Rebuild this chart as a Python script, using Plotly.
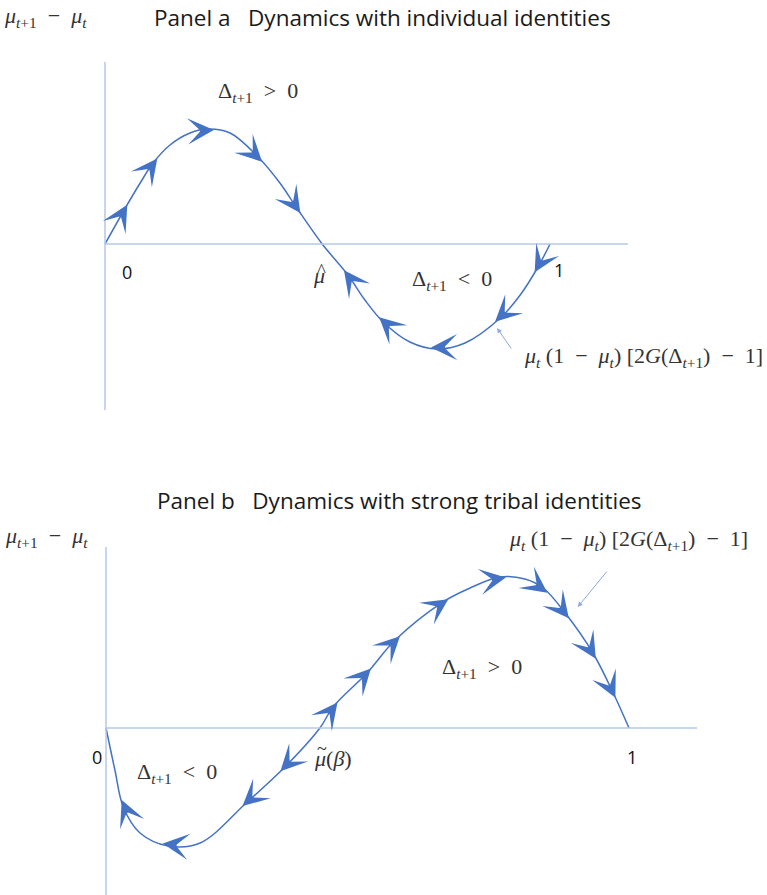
import numpy as np
import plotly.graph_objects as go
from plotly.subplots import make_subplots

# ---- panel a: individual identities ----
mu_a = [0.0, 0.043, 0.079, 0.108, 0.146, 0.191, 0.231, 0.281, 0.344, 0.393, 0.431,
        0.488, 0.546, 0.584, 0.625, 0.685, 0.746, 0.809, 0.888, 0.933, 0.973, 1.0]
dmu_a = [0.0, 0.34, 0.61, 0.81, 0.99, 1.11, 1.15, 1.11, 0.87, 0.61, 0.36,
         0.0, -0.31, -0.56, -0.78, -0.98, -1.05, -0.99, -0.74, -0.51, -0.23, 0.0]
arrows_a = [0.043, 0.108, 0.231, 0.344, 0.431, 0.546, 0.625, 0.746, 0.888, 0.973]
dir_a = [1, 1, 1, 1, 1, -1, -1, -1, -1, -1]

# ---- panel b: strong tribal identities ----
mu_b = [0.0, 0.017, 0.033, 0.065, 0.119, 0.180, 0.270, 0.342, 0.409, 0.434, 0.499,
        0.553, 0.644, 0.696, 0.753, 0.801, 0.836, 0.878, 0.931, 0.969, 1.0]
dmu_b = [0.0, -0.42, -0.79, -1.05, -1.18, -1.15, -0.74, -0.39, 0.0, 0.21, 0.55,
         0.88, 1.26, 1.40, 1.51, 1.49, 1.40, 1.15, 0.75, 0.36, 0.0]
arrows_b = [0.033, 0.119, 0.270, 0.342, 0.434, 0.499, 0.553, 0.644, 0.753, 0.836, 0.878, 0.931, 0.969]
dir_b = [-1, -1, -1, -1, 1, 1, 1, 1, 1, 1, 1, 1, 1]

CURVE = "#4472C4"
AXIS = "#B4C7E7"
POINTER = "#8FAADC"
MATH = "Liberation Serif"
SANS = "Open Sans"
SP = "\u2002"

# axis ranges (also used to size the arrow shafts in pixels)
XR_A, YR_A = [-0.236, 1.4876], [-2.06, 2.44]
XR_B, YR_B = [-0.2027, 1.2639], [-1.67, 2.78]
W, H = 767, 895

fig = make_subplots(rows=2, cols=1)

fig.add_trace(
    go.Scatter(x=mu_a, y=dmu_a, mode="lines", line=dict(shape="spline", color=CURVE, width=1.5),
               hoverinfo="skip", showlegend=False),
    row=1, col=1
)
fig.add_trace(
    go.Scatter(x=mu_b, y=dmu_b, mode="lines", line=dict(shape="spline", color=CURVE, width=1.5),
               hoverinfo="skip", showlegend=False),
    row=2, col=1
)

fig.update_layout(
    width=W, height=H,
    margin=dict(l=0, r=0, t=0, b=0),
    paper_bgcolor="white", plot_bgcolor="white",
    xaxis=dict(domain=[0, 1], range=XR_A, visible=False),
    yaxis=dict(domain=[0.4972, 1], range=YR_A, visible=False),
    xaxis2=dict(domain=[0, 1], range=XR_B, visible=False),
    yaxis2=dict(domain=[0, 0.4972], range=YR_B, visible=False),
)

# axes of the phase diagrams
shapes = []
for xr, yr, top, bottom, right in [("x", "y", 1.82, -1.66, 1.175), ("x2", "y2", 1.81, -1.67, 1.13)]:
    shapes.append(dict(type="line", xref=xr, yref=yr, x0=0, x1=0, y0=bottom, y1=top,
                       line=dict(color=AXIS, width=1.5)))
    shapes.append(dict(type="line", xref=xr, yref=yr, x0=0, x1=right, y0=0, y1=0,
                       line=dict(color=AXIS, width=1.5)))
fig.update_layout(shapes=shapes)


def along(mus, dmus, m, d, px, sx, sy):
    # walk along the drawn curve from m in direction d until px pixels away
    y0 = np.interp(m, mus, dmus)
    t = m
    for _ in range(400):
        t += d * 0.0005
        yt = np.interp(t, mus, dmus)
        if np.hypot((t - m) * sx, (yt - y0) * sy) >= px:
            break
    return t, float(yt)


# direction arrows along the curves
ann = []
for mus, dmus, pts, dirs, xr, yr, xrng, yrng in [
        (mu_a, dmu_a, arrows_a, dir_a, "x", "y", XR_A, YR_A),
        (mu_b, dmu_b, arrows_b, dir_b, "x2", "y2", XR_B, YR_B)]:
    sx = W / (xrng[1] - xrng[0])
    sy = H * 0.4972 / (yrng[1] - yrng[0])
    for m, d in zip(pts, dirs):
        tx, ty = along(mus, dmus, m, d, 6, sx, sy)
        bx, by = along(mus, dmus, m, -d, 8, sx, sy)
        ann.append(dict(x=tx, y=ty, ax=bx, ay=by,
                        xref=xr, yref=yr, axref=xr, ayref=yr, text="",
                        showarrow=True, arrowhead=3, arrowsize=1.9, arrowwidth=2.3,
                        arrowcolor=CURVE))

def label(txt, x, y, xr, yr, font=MATH, size=22, color="#333333"):
    ann.append(dict(x=x, y=y, xref=xr, yref=yr, text=txt, showarrow=False,
                    xanchor="center", yanchor="middle",
                    font=dict(family=font, size=size, color=color)))

ylab = f"<i>μ</i><sub><i>t</i>+1</sub>{SP}−{SP}<i>μ</i><sub><i>t</i></sub>"
dpos = f"Δ<sub><i>t</i>+1</sub>{SP}>{SP}0"
dneg = f"Δ<sub><i>t</i>+1</sub>{SP}<{SP}0"
formula = (f"<i>μ</i><sub><i>t</i></sub> (1{SP}−{SP}<i>μ</i><sub><i>t</i></sub>) "
           f"[2<i>G</i>(Δ<sub><i>t</i>+1</sub>){SP}−{SP}1]")

# panel a texts
label("Panel a\u00a0\u00a0\u00a0Dynamics with individual identities", 0.4987, 0.981, "paper", "paper",
      font=SANS, size=22.5, color="#1a1a1a")
label(ylab, -0.133, 2.27, "x", "y")
label(dpos, 0.344, 1.52, "x", "y")
label("0", 0.049, -0.28, "x", "y", font=SANS, size=18, color="#111111")
label("1", 1.02, -0.26, "x", "y", font=SANS, size=18, color="#111111")
label("<i>μ</i>", 0.481, -0.31, "x", "y")
label("^", 0.486, -0.26, "x", "y", size=19)
label(dneg, 0.780, -0.36, "x", "y")
label(formula, 1.211, -1.13, "x", "y")
ann.append(dict(x=0.881, y=-0.84, ax=0.915, ay=-1.06, xref="x", yref="y", axref="x", ayref="y",
                text="", showarrow=True, arrowhead=2, arrowsize=1, arrowwidth=1, arrowcolor=POINTER))

# panel b texts
label("Panel b\u00a0\u00a0\u00a0Dynamics with strong tribal identities", 0.5215, 0.4413, "paper", "paper",
      font=SANS, size=22.5, color="#1a1a1a")
label(ylab, -0.113, 1.91, "x2", "y2")
label(formula, 1.0, 1.88, "x2", "y2")
ann.append(dict(x=0.902, y=1.21, ax=0.960, ay=1.58, xref="x2", yref="y2", axref="x2", ayref="y2",
                text="", showarrow=True, arrowhead=2, arrowsize=1, arrowwidth=1, arrowcolor=POINTER))
label(dpos, 0.719, 0.60, "x2", "y2")
label("0", -0.017, -0.29, "x2", "y2", font=SANS, size=18, color="#111111")
label("1", 1.006, -0.29, "x2", "y2", font=SANS, size=18, color="#111111")
label("<i>μ</i>(<i>β</i>)", 0.434, -0.30, "x2", "y2")
label("~", 0.413, -0.21, "x2", "y2", size=18)
label(dneg, 0.136, -0.45, "x2", "y2")

fig.update_layout(annotations=ann)

# the page body gets no margin, so the figure sits at the window corner
fig.write_html("out.html", config={"displayModeBar": False},
               post_script="document.body.style.margin='0';")
